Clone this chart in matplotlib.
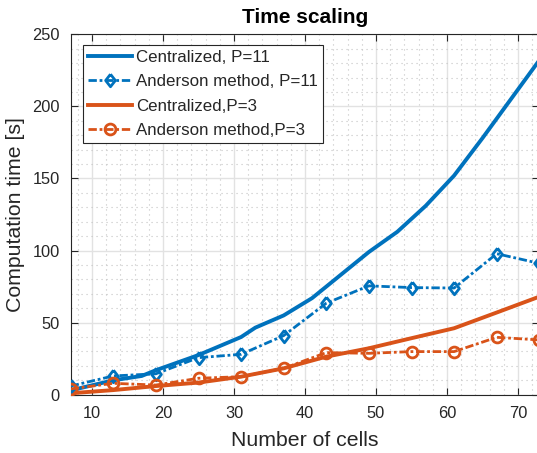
import matplotlib
matplotlib.use("Agg")
import matplotlib.pyplot as plt
from matplotlib.ticker import MultipleLocator

plt.rcParams['font.family'] = ['Liberation Sans', 'DejaVu Sans']

# Data
x_cent11 = [7, 13, 17, 19, 25, 31, 33, 37, 41, 45, 49, 53, 57, 61, 65, 69, 73]
y_cent11 = [3, 10, 13, 17, 27.5, 40, 46.5, 55, 67, 83, 99, 113, 131, 152, 178, 205, 232]

x_and = [7, 13, 19, 25, 31, 37, 43, 49, 55, 61, 67, 73]
y_and11 = [6.0, 13.0, 14.5, 25.7, 28.0, 41.0, 63.5, 75.5, 74.3, 74.0, 97.8, 91.1]

x_cent3 = [7, 13, 19, 25, 31, 37, 43, 49, 55, 61, 67, 73]
y_cent3 = [1, 3.2, 6, 8.4, 12.5, 18.3, 26.4, 32.2, 39.2, 46.1, 57, 68]

y_and3 = [4.0, 7.9, 6.7, 11.4, 12.5, 18.3, 29.2, 28.7, 29.9, 29.9, 39.8, 38.0]

labels = ["Centralized, P=11", "Anderson method, P=11",
          "Centralized,P=3", "Anderson method,P=3"]

blue = '#0072BD'
orange = '#D95319'
dk = '#262626'

W, H = 537, 453
fig = plt.figure(figsize=(W / 100, H / 100), dpi=100)
left = 70.7 / W
bottom = 1 - 394.7 / H
top = 1 - 34.3 / H
right = 539.3 / W
ax = fig.add_axes([left, bottom, right - left, top - bottom])

diamond = [(0, 1), (0.78, 0), (0, -1), (-0.78, 0), (0, 1)]
dd = (0, (3, 1, 1, 1))

ax.plot(x_cent11, y_cent11, color=blue, lw=2.8, label=labels[0], zorder=4,
        solid_joinstyle='round')
ax.plot(x_and, y_and11, color=blue, lw=2.0, linestyle=dd, marker=diamond,
        markersize=9, mfc='none', mec=blue, mew=2.0, label=labels[1], zorder=5)
ax.plot(x_cent3, y_cent3, color=orange, lw=2.8, label=labels[2], zorder=4,
        solid_joinstyle='round')
ax.plot(x_and, y_and3, color=orange, lw=2.0, linestyle=dd, marker='o',
        markersize=7.8, mfc='none', mec=orange, mew=2.0, label=labels[3], zorder=5)

ax.set_xlim(7, 73)
ax.set_ylim(0, 250)
ax.xaxis.set_major_locator(MultipleLocator(10))
ax.yaxis.set_major_locator(MultipleLocator(50))
ax.xaxis.set_minor_locator(MultipleLocator(2))
ax.yaxis.set_minor_locator(MultipleLocator(10))

ax.grid(which='major', color='#e2e2e2', lw=1.0, linestyle='-')
ax.grid(which='minor', color='#c4c4c4', lw=0.8, linestyle=(0, (1, 3.5)))
ax.set_axisbelow(True)

ax.tick_params(which='major', direction='in', length=5, width=0.8, colors=dk,
               top=True, right=True, labelsize=11.8, pad=8)
ax.tick_params(which='minor', length=0, top=True, right=True)
for s in ax.spines.values():
    s.set_color(dk)
    s.set_linewidth(0.8)

ax.set_title("Time scaling", fontsize=15, fontweight='bold', color='black', pad=8)
ax.set_xlabel("Number of cells", fontsize=15.3, color=dk, labelpad=7)
ax.set_ylabel("Computation time [s]", fontsize=15.3, color=dk, labelpad=5)

leg = ax.legend(loc='upper left', bbox_to_anchor=(83 / W, 1 - 45 / H),
                bbox_transform=fig.transFigure, borderaxespad=0,
                fontsize=12.2, handlelength=2.6, handletextpad=0.25,
                borderpad=0.3, labelspacing=0.55, numpoints=1,
                fancybox=False, framealpha=1, edgecolor=dk)
leg.get_frame().set_linewidth(0.8)
for t in leg.get_texts():
    t.set_color(dk)

fig.savefig("out.png", dpi=100)
